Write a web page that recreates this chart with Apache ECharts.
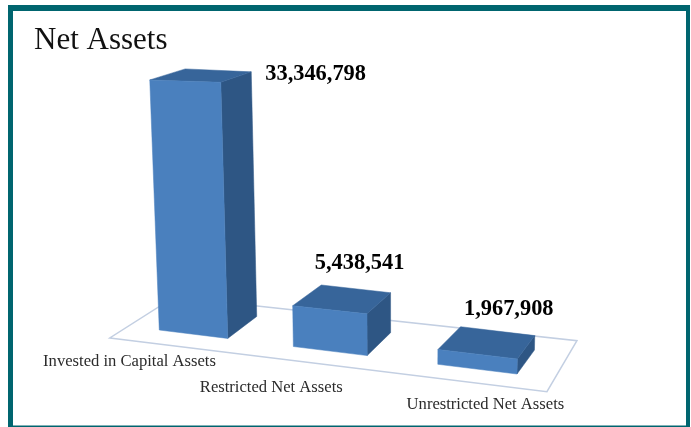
<!DOCTYPE html>
<html><head><meta charset="utf-8">
<style>html,body{margin:0;padding:0;background:#fff}#c{width:691px;height:427px}</style>
<script src="https://cdn.jsdelivr.net/npm/echarts@6/dist/echarts.min.js"></script>
</head><body><div id="c"></div>
<script>
var categories = ['Invested in Capital Assets', 'Restricted Net Assets', 'Unrestricted Net Assets'];
var netAssets = [33346798, 5438541, 1967908];

// layout of the labels, relative to each bar (px)
var valueLabelOffsets = [[14, 2, 'left'], [-31, -30, 'center'], [-26, -26, 'center']];
var categoryLabelOffsets = [[-64, 32], [-59, 41], [8, 40]];

// oblique-view constants
var TEAL = '#00656f', FRONT = '#4a80be', SIDE = '#2e5684', TOP = '#37659a';
var FLOOR_LINE = '#c3cfe2', SERIF = '"Liberation Serif", serif';
var HALF_BAR = 0.26, WARP = 5.175, SLOPE = 0.123;

function base(api, params, i, uOff) {
  var band = api.size([1, 0])[0];
  var ux = api.coord([i, 0])[0] + uOff * band;
  var u = (ux - params.coordSys.x) / band - 0.5;
  var x = ux + WARP * u * u;
  return [x, api.coord([i, 0])[1] + SLOPE * (x - params.coordSys.x)];
}
function depth(p, extra) {
  return [p[0] + 29 - (p[0] - 228) * 0.04 + extra, p[1] - 22 - (p[0] - 228) * 0.0069];
}
function raise(api, i, p, value, scale) {
  var h = (api.coord([i, 0])[1] - api.coord([i, value])[1]) * scale;
  return [p[0] - (397 - p[0]) * 0.00016 * h, p[1] - h];
}
function poly(points, fill) {
  return { type: 'polygon', shape: { points: points }, style: { fill: fill, stroke: fill, lineWidth: 0.5 } };
}
function renderBar(params, api) {
  var i = api.value(0), v = api.value(1);
  var fl = base(api, params, i, -HALF_BAR), fr = base(api, params, i, HALF_BAR);
  var bl = depth(fl, 2), br = depth(fr, 0);
  var tfl = raise(api, i, fl, v, 1), tfr = raise(api, i, fr, v, 1.024);
  var tbl = raise(api, i, bl, v, 0.958), tbr = raise(api, i, br, v, 0.978);
  var vo = valueLabelOffsets[i], co = categoryLabelOffsets[i];
  return { type: 'group', children: [
    poly([fr, br, tbr, tfr], SIDE),
    poly([tfl, tfr, tbr, tbl], TOP),
    poly([fl, fr, tfr, tfl], FRONT),
    { type: 'text', style: { text: netAssets[i].toLocaleString('en-US'), x: tbr[0] + vo[0], y: tbr[1] + vo[1],
        align: vo[2], verticalAlign: 'middle', font: 'bold 22.4px ' + SERIF, fill: '#000' } },
    { type: 'text', style: { text: categories[i], x: (fl[0] + fr[0]) / 2 + co[0], y: fl[1] + co[1],
        align: 'center', verticalAlign: 'middle', font: '16.6px ' + SERIF, fill: '#2b2b2b' } }
  ] };
}
function renderFloor(params, api) {
  var a = base(api, params, 0, -0.65), b = base(api, params, 0, 2.452);
  var f1 = [a[0], a[1] + 14], f2 = [b[0], b[1] + 14];
  return { type: 'polygon', shape: { points: [f1, f2, [f2[0] + 30, f2[1] - 51], [f1[0] + 64.5, f1[1] - 41]] },
    style: { fill: 'none', stroke: FLOOR_LINE, lineWidth: 1.5 } };
}
var chart = echarts.init(document.getElementById('c'), null, { renderer: 'canvas' });
chart.setOption({
  animation: false,
  backgroundColor: '#fff',
  title: { text: 'Net Assets', left: 29, top: 20, textStyle: { fontFamily: SERIF, fontWeight: 'normal', fontSize: 31, color: '#111' } },
  grid: { left: 127.35, top: 26.1, width: 394.8, height: 300 },
  xAxis: { type: 'category', data: categories, show: false },
  yAxis: { type: 'value', min: 0, max: 40000000, show: false },
  graphic: { elements: [
    { type: 'rect', z: -10, silent: true, shape: { x: 8, y: 5, width: 682, height: 422 }, style: { fill: TEAL } },
    { type: 'rect', z: -9, silent: true, shape: { x: 13, y: 11, width: 673, height: 414.5 }, style: { fill: '#fff' } }
  ] },
  series: [
    { type: 'custom', silent: true, z: 1, renderItem: renderFloor, data: [[0, 0]] },
    { type: 'custom', silent: true, z: 2, renderItem: renderBar, data: netAssets.map(function (v, i) { return [i, v]; }) }
  ]
});
</script></body></html>
